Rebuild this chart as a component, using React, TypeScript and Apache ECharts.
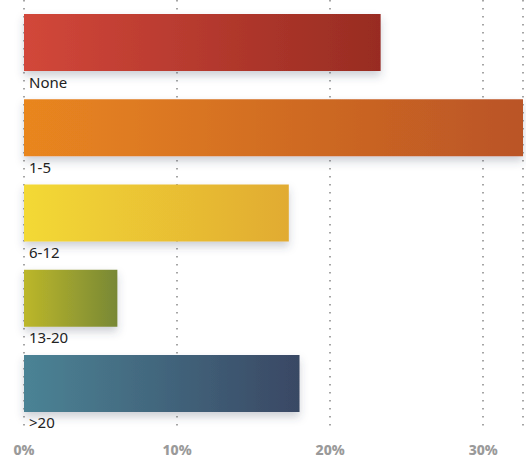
import React, { useEffect, useRef } from "react";
import * as echarts from "echarts";

const categories = ["None", "1-5", "6-12", "13-20", ">20"];
const values = [23.3, 34, 17.3, 6.1, 18.0];
const startColors = ["#D2473A", "#E9861F", "#F3D935", "#BCB72A", "#4B8395"];
const endColors = ["#982C22", "#BA5426", "#E1AB32", "#788835", "#394864"];
const tickValues = [0, 10, 20, 30];

export default function App() {
  const ref = useRef<HTMLDivElement>(null);
  useEffect(() => {
    const chart = echarts.init(ref.current!, undefined, { renderer: "svg", width: 526, height: 458 });
    chart.setOption({
      animation: false,
      grid: { left: 24, width: 502, top: -1, height: 427, containLabel: false },
      xAxis: {
        type: "value",
        min: 0,
        max: 32.6,
        interval: 10,
        axisLine: { show: false },
        axisTick: { show: false },
        splitLine: { show: true, lineStyle: { type: [1.5, 6.5], color: "#888", width: 1.5 } },
        axisLabel: {
          formatter: (v: number) => (tickValues.includes(v) ? v + "%" : ""),
          color: "#9a9a9a",
          fontFamily: "Noto Sans",
          fontWeight: 800,
          fontSize: 14,
          margin: 16,
        },
      },
      yAxis: {
        type: "category",
        data: categories,
        inverse: true,
        axisLine: { show: false },
        axisTick: { show: false },
        axisLabel: { show: false },
        splitLine: { show: false },
      },
      series: [
        {
          type: "bar",
          barWidth: 57,
          clip: true,
          data: values.map((v, i) => ({
            value: v,
            itemStyle: {
              color: new echarts.graphic.LinearGradient(0, 0, 1, 0, [
                { offset: 0, color: startColors[i] },
                { offset: 1, color: endColors[i] },
              ]),
              shadowColor: "rgba(60,70,90,0.25)",
              shadowBlur: 8,
              shadowOffsetY: 5,
            },
          })),
          label: {
            show: true,
            position: [5, 60],
            align: "left",
            verticalAlign: "top",
            formatter: (p: any) => p.name,
            color: "#222",
            fontFamily: "Noto Sans",
            fontSize: 15,
          },
        },
      ],
    });
    return () => chart.dispose();
  }, []);
  return <div ref={ref} style={{ width: 526, height: 458, position: "absolute", left: 0, top: 0 }} />;
}
